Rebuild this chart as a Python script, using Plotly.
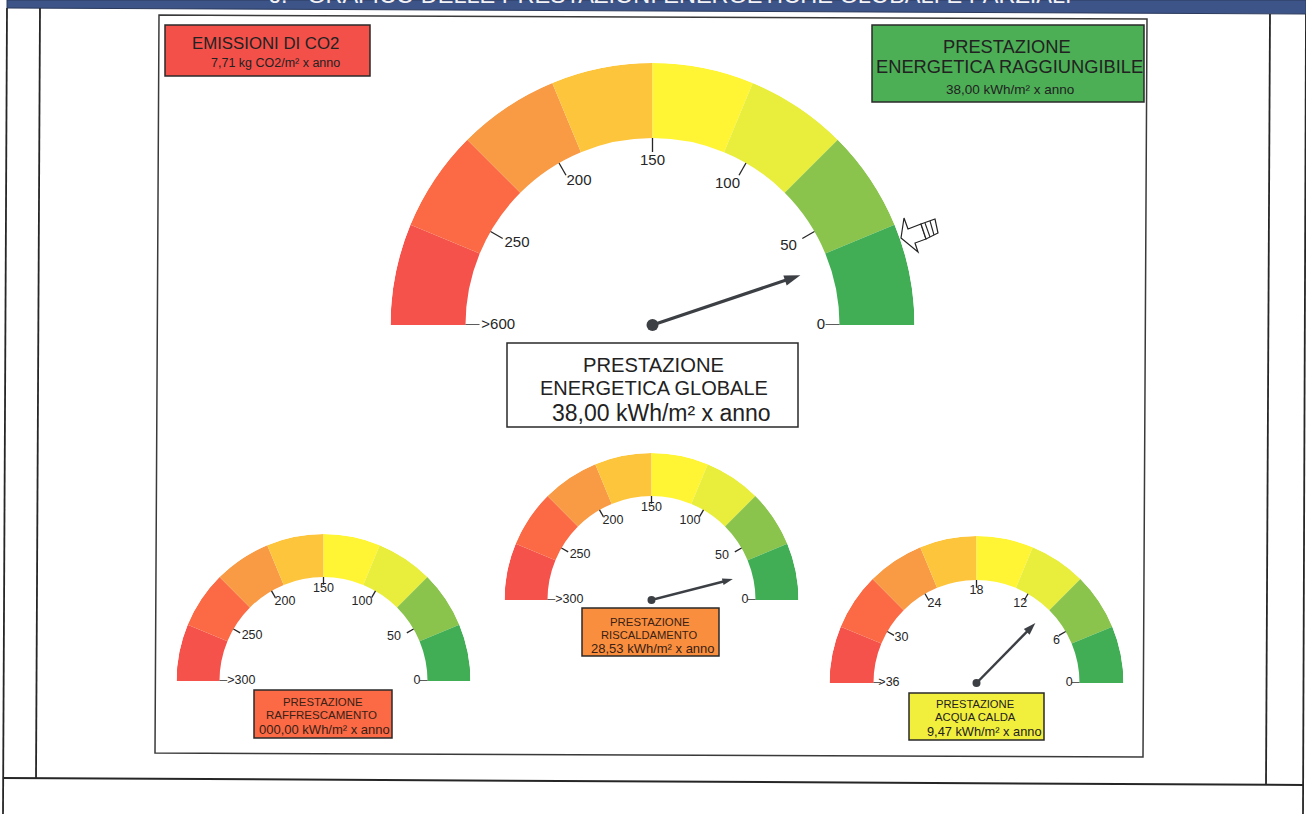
import plotly.graph_objects as go

# ---------- data ----------
segment_colors = ["#F4524A", "#FB6A45", "#F99A45", "#FDC53C", "#FFF535", "#E9EE3C", "#8AC44C", "#41AE55"]
tick_values_main = [0, 50, 100, 150, 200, 250, 300]
tick_labels_main = ["0", "50", "100", "150", "200", "250", ">600"]
tick_labels_part = ["0", "50", "100", "150", "200", "250", ">300"]
tick_values_water = [0, 6, 12, 18, 24, 30, 36]
tick_labels_water = ["0", "6", "12", "18", "24", "30", ">36"]
scale_max_main = 300
scale_max_water = 36
needle_global = 31
needle_heating = 24
needle_water = 9.1

title_text = "6.   GRAFICO DELLE PRESTAZIONI ENERGETICHE GLOBALI E PARZIALI"
co2_lines = ["EMISSIONI DI CO2", "7,71 kg CO2/m² x anno"]
target_lines = ["PRESTAZIONE", "ENERGETICA RAGGIUNGIBILE", "38,00 kWh/m² x anno"]
global_lines = ["PRESTAZIONE", "ENERGETICA GLOBALE", "38,00 kWh/m² x anno"]
cooling_lines = ["PRESTAZIONE", "RAFFRESCAMENTO", "000,00 kWh/m² x anno"]
heating_lines = ["PRESTAZIONE", "RISCALDAMENTO", "28,53 kWh/m² x anno"]
water_lines = ["PRESTAZIONE", "ACQUA CALDA", "9,47 kWh/m² x anno"]

# ---------- layout constants (pixels) ----------
W, H = 1306, 814
FONT = "Liberation Sans"
INK = "#262626"
NEEDLE = "#3C4045"
factor_big = [0.90, 0.84, 0.855, 0.875, 0.865, 0.845, 0.825]
shift_big = [0, 0, 2, 0, -3, -1, 0]
factor_small = [0.90, 0.80, 0.845, 0.885, 0.845, 0.81, 0.79]
shift_small = [0, 2, 4, 0, -4, -2, 0]
factor_water = [0.90, 0.88, 0.875, 0.89, 0.87, 0.85, 0.85]
shift_water = [0, -2, 1, 0, -2, -1, 0]

gauges = [
    dict(cx=652.5, base=325, R=262, r=187, ticks=tick_values_main, labels=tick_labels_main,
         factor=factor_big, shift=shift_big,
         smax=scale_max_main, needle=needle_global, tip=156, fs=15, dot=12, head=17, lw=3.2),
    dict(cx=323.5, base=681, R=147, r=104, ticks=tick_values_main, labels=tick_labels_part,
         factor=factor_small, shift=shift_small,
         smax=scale_max_main, needle=None, tip=0, fs=12.5, dot=0, head=0, lw=0),
    dict(cx=651.5, base=600, R=147, r=104, ticks=tick_values_main, labels=tick_labels_part,
         factor=factor_small, shift=shift_small,
         smax=scale_max_main, needle=needle_heating, tip=84, fs=12.5, dot=8, head=11, lw=2.4),
    dict(cx=976.5, base=683, R=147, r=103, ticks=tick_values_water, labels=tick_labels_water,
         factor=factor_water, shift=shift_water,
         smax=scale_max_water, needle=needle_water, tip=84, fs=12.5, dot=8, head=13, lw=2.4),
]

fig = go.Figure()
layout_polars = {}

for i, g in enumerate(gauges):
    name = "polar" if i == 0 else f"polar{i + 1}"
    n = len(segment_colors)
    step = 180 / n
    fig.add_trace(go.Barpolar(
        r=[g["R"] - g["r"]] * n, base=[g["r"]] * n,
        theta=[step * (n - 1 - k + 0.5) for k in range(n)],
        width=[step] * n,
        marker=dict(color=segment_colors, line=dict(width=0)),
        subplot=name, showlegend=False, hoverinfo="skip",
    ))
    angles = [v * 180 / g["smax"] for v in g["ticks"]]
    tick_r, tick_t = [], []
    for a in angles:
        tick_r += [g["r"] * 0.925, g["r"], None]
        tick_t += [a, a, None]
    fig.add_trace(go.Scatterpolar(
        r=tick_r, theta=tick_t, mode="lines", line=dict(color=INK, width=1.3),
        subplot=name, showlegend=False, hoverinfo="skip",
    ))
    fig.add_trace(go.Scatterpolar(
        r=[g["r"] * f for f in g["factor"]],
        theta=[a + s for a, s in zip(angles, g["shift"])],
        text=g["labels"], mode="text",
        textfont=dict(family=FONT, size=g["fs"], color=INK), textposition="middle center",
        subplot=name, showlegend=False, hoverinfo="skip",
    ))
    if g["needle"] is not None:
        a = g["needle"] * 180 / g["smax"]
        fig.add_trace(go.Scatterpolar(
            r=[0, g["tip"] - g["head"] * 0.6], theta=[a, a], mode="lines",
            line=dict(color=NEEDLE, width=g["lw"]),
            subplot=name, showlegend=False, hoverinfo="skip",
        ))
        fig.add_trace(go.Scatterpolar(
            r=[0], theta=[a], mode="markers",
            marker=dict(color=NEEDLE, size=g["dot"], symbol="circle"),
            subplot=name, showlegend=False, hoverinfo="skip",
        ))
        fig.add_trace(go.Scatterpolar(
            r=[g["tip"]], theta=[a], mode="markers",
            marker=dict(color=NEEDLE, size=g["head"], symbol="arrow", angle=90 - a, line=dict(width=0)),
            subplot=name, showlegend=False, hoverinfo="skip",
        ))
    layout_polars[name] = dict(
        domain=dict(x=[(g["cx"] - g["R"]) / W, (g["cx"] + g["R"]) / W],
                    y=[(H - g["base"]) / H, (H - g["base"] + g["R"]) / H]),
        sector=[0, 180], bgcolor="rgba(0,0,0,0)", bargap=0,
        radialaxis=dict(visible=False, range=[0, g["R"]]),
        angularaxis=dict(visible=False, direction="counterclockwise", rotation=0, thetaunit="degrees"),
    )

shapes = []


def path(points, fill=None, color=INK, width=1.5):
    d = "M" + " L".join(f"{x},{y}" for x, y in points)
    if fill is not None:
        d += " Z"
    shapes.append(dict(type="path", path=d, xref="x", yref="y",
                       fillcolor=fill if fill else "rgba(0,0,0,0)",
                       line=dict(color=color, width=width)))


def box(x0, y0, x1, y1, fill, color="#2a2a2a", width=1.5):
    shapes.append(dict(type="rect", x0=x0, y0=y0, x1=x1, y1=y1, xref="x", yref="y",
                       fillcolor=fill, line=dict(color=color, width=width), layer="below"))


# page table and header band
path([(7, 0), (1306, 0), (1306, 14), (7, 8)], fill="#3D5488", color="#2c3a5c", width=1)
path([(7, 8), (3, 814)], width=1.8)
path([(40, 8), (36, 779)], width=1.8)
path([(1270, 14), (1266, 785)], width=1.8)
path([(1306, 14), (1303, 814)], width=1.8)
path([(3, 778), (1304, 785)], width=2)
# inner frame
path([(159, 15), (1147, 19), (1143, 757), (155, 753)], fill="rgba(0,0,0,0)", color="#3a3a3a", width=1.5)

box(165, 25, 370, 76, "#F4504A")
box(872, 25, 1144, 102, "#4CAF55")
box(507, 343, 798, 427, "#FFFFFF")
box(254, 690, 392, 738, "#FB6A45")
box(582, 608, 719, 656, "#F98F3E")
box(909, 693, 1044, 740, "#F2EE3C")

# hand-shaped pointer beside the gauge
path([(901, 238), (904, 218), (908, 229), (921, 224), (926, 239), (915, 243), (918, 252)],
     fill="#FFFFFF", color="#222222", width=1.2)
path([(921, 224), (935, 219), (938, 233), (926, 239)], fill="#FFFFFF", color="#222222", width=1.2)
path([(925, 223), (930, 237)], color="#222222", width=1.1)
path([(930, 221), (934, 235)], color="#222222", width=1.1)

annotations = []


def label(lines, xs, ys, sizes, color="#222222"):
    for t, x, y, s in zip(lines, xs, ys, sizes):
        annotations.append(dict(text=t, x=x, y=y, xref="x", yref="y", showarrow=False,
                                xanchor="center", yanchor="middle",
                                font=dict(family=FONT, size=s, color=color)))


annotations.append(dict(text=title_text, x=670, y=10, xref="x", yref="y", showarrow=False,
                        xanchor="center", yanchor="bottom",
                        font=dict(family=FONT, size=23.5, color="#F2F2F6")))
label(co2_lines, [265, 275.5], [43, 63], [16.8, 12.5])
label(target_lines, [1007, 1009, 1010], [46, 66, 89], [18.3, 18.3, 13.5])
label(global_lines, [653, 654, 661], [365, 388, 413], [20.2, 20, 23])
label(cooling_lines, [322.5, 321.5, 324], [702, 715, 729], [11.4, 11.5, 13], color="#3a2015")
label(heating_lines, [649.5, 649, 653], [622, 635, 648], [11.4, 11.2, 13], color="#3a2015")
label(water_lines, [975, 975, 984], [704, 717, 731], [11.2, 11.3, 12.8], color="#222222")

fig.update_layout(
    width=W, height=H, margin=dict(l=0, r=0, t=0, b=0),
    paper_bgcolor="#FFFFFF", plot_bgcolor="rgba(0,0,0,0)", showlegend=False,
    xaxis=dict(range=[0, W], visible=False, fixedrange=True),
    yaxis=dict(range=[H, 0], visible=False, fixedrange=True),
    shapes=shapes, annotations=annotations, **layout_polars,
)

fig.write_html("out.html", config=dict(displayModeBar=False),
               post_script="document.body.style.margin='0';document.body.style.overflow='hidden';")
